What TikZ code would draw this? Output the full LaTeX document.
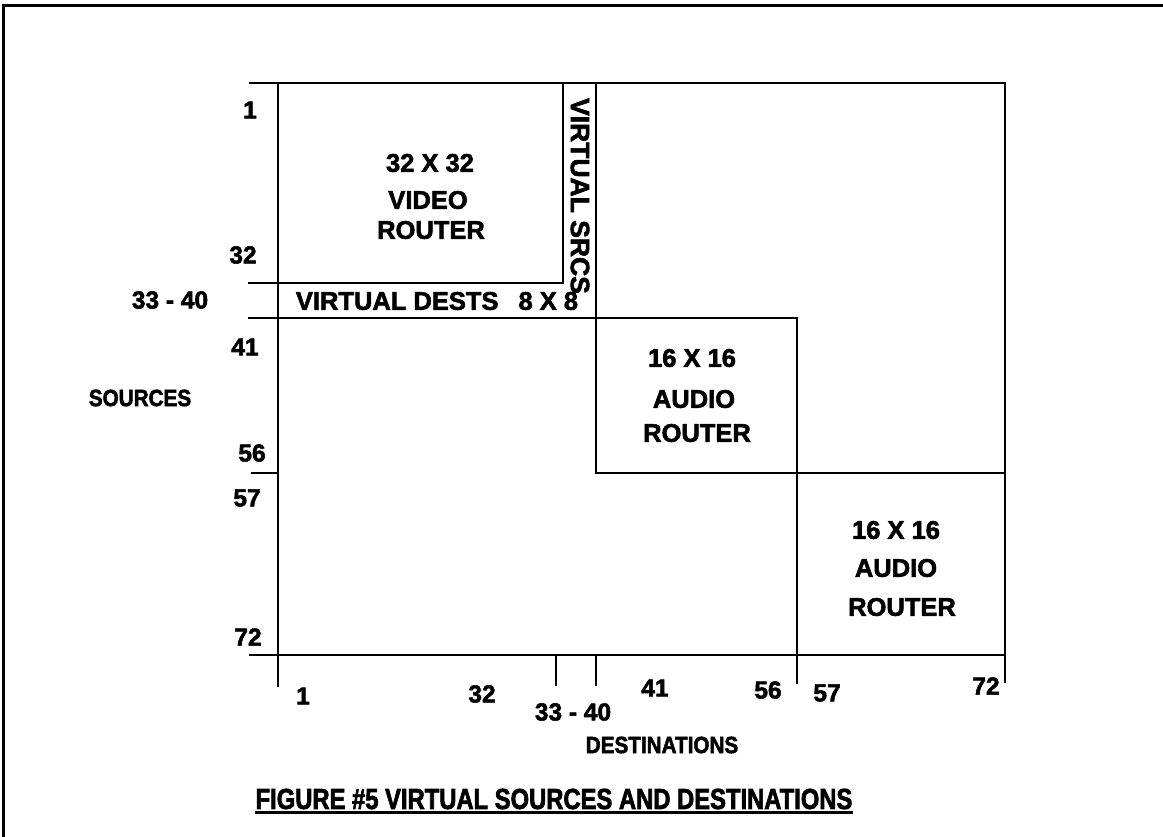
\documentclass[tikz,border=0pt]{standalone}
\usepackage{fontspec}
\setmainfont{Liberation Sans}
\newfontfamily\labfont{Liberation Sans}[BoldFeatures={FakeBold=2.2}]
\newfontfamily\ttlfont{Liberation Sans}[BoldFeatures={FakeBold=2.2,FakeStretch=0.88}]
\newfontfamily\capfont{Liberation Sans}[BoldFeatures={FakeBold=2.2,FakeStretch=0.82}]
\begin{document}
\begin{tikzpicture}[x=1pt,y=-1pt,
  ln/.style={line width=2.6pt,line cap=rect},
  lbl/.style={inner sep=0pt,font=\labfont\fontsize{25.5}{30}\selectfont\bfseries},
  num/.style={inner sep=0pt,font=\labfont\fontsize{24.5}{30}\selectfont\bfseries},
  ttl/.style={inner sep=0pt,font=\ttlfont\fontsize{23.5}{28}\selectfont\bfseries},
  captxt/.style={inner sep=0pt,font=\capfont\fontsize{29}{34}\selectfont\bfseries}]
\useasboundingbox (0,0) rectangle (1163,837);
% page frame
\draw[line width=3pt] (3,837) -- (3,6) -- (1163,6);
% key coordinates
\coordinate (tl) at (250,83);
\coordinate (tr) at (1005,83);
\coordinate (ax0) at (278,83);
\coordinate (ax1) at (278,686);
\coordinate (rb) at (1005,682);
\coordinate (v32l) at (249,283);
\coordinate (v32r) at (563,283);
\coordinate (vtop) at (563,83);
\coordinate (stop) at (596,83);
\coordinate (sbot) at (596,473);
\coordinate (a1br) at (1005,473);
\coordinate (d40l) at (249,318);
\coordinate (d40r) at (797,318);
\coordinate (a2b) at (797,683);
\coordinate (t56l) at (252,473);
\coordinate (t56r) at (278,473);
\coordinate (bl) at (250,655);
\coordinate (br) at (1005,655);
\coordinate (k33a) at (556,655);
\coordinate (k33b) at (556,685);
\coordinate (k40a) at (596,655);
\coordinate (k40b) at (596,685);
% grid lines
\draw[ln] (tl) -- (tr);
\draw[ln] (ax0) -- (ax1);
\draw[ln] (tr) -- (rb);
\draw[ln] (v32l) -- (v32r) -- (vtop);
\draw[ln] (stop) -- (sbot) -- (a1br);
\draw[ln] (d40l) -- (d40r) -- (a2b);
\draw[ln] (t56l) -- (t56r);
\draw[ln] (bl) -- (br);
\draw[ln] (k33a) -- (k33b);
\draw[ln] (k40a) -- (k40b);
% left axis labels
\node[num] (s1) at (250,110) {1};
\node[num] (s32) at (243,255) {32};
\node[num] (s33) at (170,300) {33 - 40};
\node[num] (s41) at (245,347) {41};
\node[ttl] (src) at (140,398) {SOURCES};
\node[num] (s56) at (252,453) {56};
\node[num] (s57) at (247,498) {57};
\node[num] (s72) at (248,637) {72};
% bottom axis labels
\node[num] (d1) at (303,696) {1};
\node[num] (d32) at (482,694) {32};
\node[num] (d33) at (573,712) {33 - 40};
\node[num] (d41) at (655,688) {41};
\node[num] (d56) at (768,690) {56};
\node[num] (d57) at (827,693) {57};
\node[num] (d72) at (986,686) {72};
\node[ttl] (dst) at (662,745) {DESTINATIONS};
% block labels
\node[lbl] (v1) at (430,163) {32 X 32};
\node[lbl] (v2) at (428,200) {VIDEO};
\node[lbl] (v3) at (431,230) {ROUTER};
\node[lbl] (vd) at (437,301) {VIRTUAL DESTS\hspace{20pt}8 X 8};
\node[lbl,font=\labfont\fontsize{26.5}{30}\selectfont\bfseries,rotate=-90] (vs) at (580,196) {VIRTUAL SRCS};
\node[lbl] (a11) at (692,358) {16 X 16};
\node[lbl] (a12) at (694,399) {AUDIO};
\node[lbl] (a13) at (697,433) {ROUTER};
\node[lbl] (a21) at (896,530) {16 X 16};
\node[lbl] (a22) at (896,568) {AUDIO};
\node[lbl] (a23) at (902,607) {ROUTER};
% caption
\node[captxt] (fig) at (554,799) {FIGURE \#5 VIRTUAL SOURCES AND DESTINATIONS};
\draw[line width=2.6pt] ([yshift=-3pt]fig.south west) -- ([yshift=-3pt]fig.south east);
\end{tikzpicture}
\end{document}
